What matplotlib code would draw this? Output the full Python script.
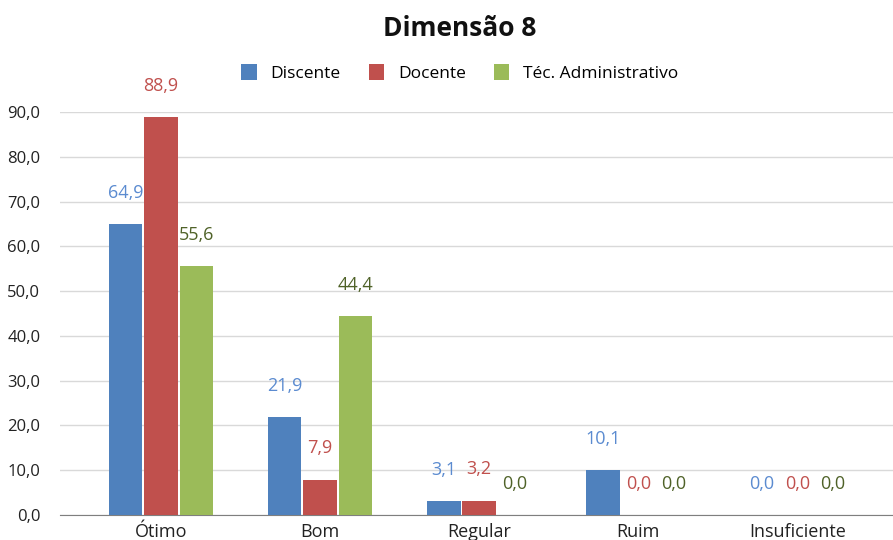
import numpy as np
import matplotlib
matplotlib.use("Agg")
import matplotlib.pyplot as plt

plt.rcParams['font.family'] = ['Open Sans', 'DejaVu Sans']

# dados
categorias = ["Ótimo", "Bom", "Regular", "Ruim", "Insuficiente"]
discente = [64.9, 21.9, 3.1, 10.1, 0.0]
docente = [88.9, 7.9, 3.2, 0.0, 0.0]
tecnico = [55.6, 44.4, 0.0, 0.0, 0.0]
series_nomes = ["Discente", "Docente", "Téc. Administrativo"]
yticks = [0, 10, 20, 30, 40, 50, 60, 70, 80, 90]

cores = ["#4f81bd", "#c0504d", "#9bbb59"]
cores_rotulo = ["#5b8bd0", "#c0504d", "#4f6228"]

fig = plt.figure(figsize=(8.93, 5.4), dpi=100)
ax = fig.add_axes([0.067, 0.0463, 0.933, 0.7463])

x = np.arange(len(categorias))
w = 0.21
passo = 0.222
for i, (vals, cor, corr, nome) in enumerate(zip([discente, docente, tecnico], cores, cores_rotulo, series_nomes)):
    pos = x + (i - 1) * passo
    ax.bar(pos, vals, width=w, color=cor, label=nome, zorder=3)
    for p, v in zip(pos, vals):
        ax.annotate(f"{v:.1f}".replace(".", ","), (p, v), xytext=(0, 16), textcoords="offset points",
                    ha="center", va="bottom", color=corr, fontsize=13, annotation_clip=False)

ax.set_xlim(-0.635, 4.6)
ax.set_ylim(0, 90)
ax.set_yticks(yticks)
ax.set_yticklabels([f"{t:.1f}".replace(".", ",") for t in yticks], fontsize=12, color="#222222")
ax.set_xticks(x)
ax.set_xticklabels(categorias, fontsize=13, color="#222222")
ax.grid(axis="y", color="#d9d9d9", linewidth=1, zorder=0)
for s in ["top", "right", "left"]:
    ax.spines[s].set_visible(False)
ax.spines["bottom"].set_color("#7f7f7f")
ax.tick_params(axis="both", length=0)
ax.tick_params(axis="x", pad=6)
ax.tick_params(axis="y", pad=14)

fig.text(0.515, 0.948, "Dimensão 8", ha="center", va="center", fontsize=19, fontweight="bold", color="#111111")
leg = fig.legend(loc="center", bbox_to_anchor=(0.515, 0.865), ncol=3, frameon=False, fontsize=12.5,
                 handlelength=0.9, handleheight=1.0, handletextpad=0.8, columnspacing=1.6)

fig.savefig("out.png", dpi=100)
